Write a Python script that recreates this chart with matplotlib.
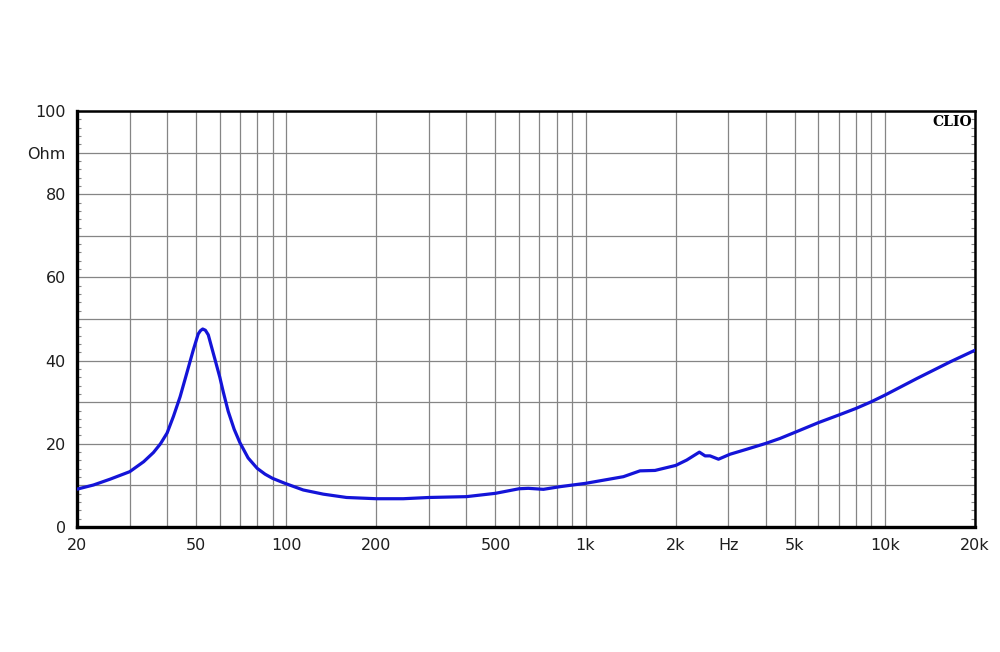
import matplotlib
matplotlib.use('Agg')
import matplotlib.pyplot as plt
from matplotlib.ticker import NullFormatter, MultipleLocator

# impedance curve (Hz, Ohm)
freq = [20, 22.7, 25.8, 30, 33.4, 36, 38, 40, 42, 44.2, 46.5, 48.9, 50.8, 51.7,
        52.6, 53.7, 54.9, 56.3, 57.8, 60, 61.6, 64, 67, 70, 74.6, 80, 85, 90,
        99, 114, 133, 159, 200, 246, 300, 400, 500, 600, 644, 723, 822, 1000,
        1338, 1520, 1706, 2000, 2178, 2400, 2508, 2605, 2780, 3040, 3456, 4000,
        4465, 5060, 6000, 7000, 8000, 9000, 10000, 12790, 16520, 20000]
ohm = [9.1, 10.1, 11.5, 13.3, 15.7, 17.9, 20.0, 22.6, 26.6, 31.3, 36.9, 42.5, 46.4, 47.2,
       47.6, 47.3, 46.2, 43.3, 40.3, 36.0, 32.5, 27.8, 23.5, 20.3, 16.6, 14.1, 12.7, 11.7,
       10.5, 8.9, 7.9, 7.1, 6.8, 6.8, 7.1, 7.3, 8.1, 9.2, 9.3, 9.06, 9.7, 10.5,
       12.1, 13.5, 13.6, 14.8, 16.1, 18.0, 17.1, 17.1, 16.3, 17.5, 18.7, 20.1,
       21.3, 22.9, 25.1, 26.9, 28.5, 30.1, 31.7, 35.7, 39.7, 42.5]

x_ticks = [20, 50, 100, 200, 500, 1000, 2000, 3000, 5000, 10000, 20000]
x_labels = ['20', '50', '100', '200', '500', '1k', '2k', 'Hz', '5k', '10k', '20k']
y_ticks = [0, 10, 20, 30, 40, 50, 60, 70, 80, 90, 100]
y_labels = ['0', '', '20', '', '40', '', '60', '', '80', 'Ohm', '100']

plt.rcParams['font.family'] = ['DejaVu Sans']

fig = plt.figure(figsize=(10, 6.52), dpi=100)
ax = fig.add_axes([0.077, 0.1917, 0.898, 0.638])

ax.plot(freq, ohm, color='#1414d8', lw=2.3, zorder=3, solid_joinstyle='round')

ax.set_xscale('log')
ax.set_xlim(20, 20000)
ax.set_ylim(0, 100)

grid_minor = [m * 10 ** e for e in range(1, 5) for m in range(2, 10)
              if 20 <= m * 10 ** e <= 20000]
ax.set_xticks(grid_minor, minor=True)
ax.set_xticks(x_ticks, x_labels)
ax.xaxis.set_minor_formatter(NullFormatter())
ax.set_yticks(y_ticks, y_labels)
ax.yaxis.set_minor_locator(MultipleLocator(2))

ax.grid(which='major', axis='y', color='#858585', lw=0.9)
ax.grid(which='minor', axis='x', color='#858585', lw=0.9)
ax.grid(which='major', axis='x', color='#858585', lw=0.9)

ax.tick_params(axis='both', which='major', length=0, labelsize=11.5,
               colors='#1e1e1e')
ax.tick_params(axis='x', which='major', pad=8)
ax.tick_params(axis='y', which='major', pad=8)
ax.tick_params(axis='x', which='minor', length=0)
ax.tick_params(axis='y', which='minor', direction='in', length=3, width=0.8,
               color='#888888', left=True, right=True)

for side in ['left', 'bottom']:
    ax.spines[side].set_linewidth(2.4)
for side in ['top', 'right']:
    ax.spines[side].set_linewidth(1.8)

ax.text(0.997, 0.99, 'CLIO', transform=ax.transAxes, ha='right', va='top',
        fontsize=10, fontweight='bold', family='DejaVu Serif')

plt.savefig('out.png')
